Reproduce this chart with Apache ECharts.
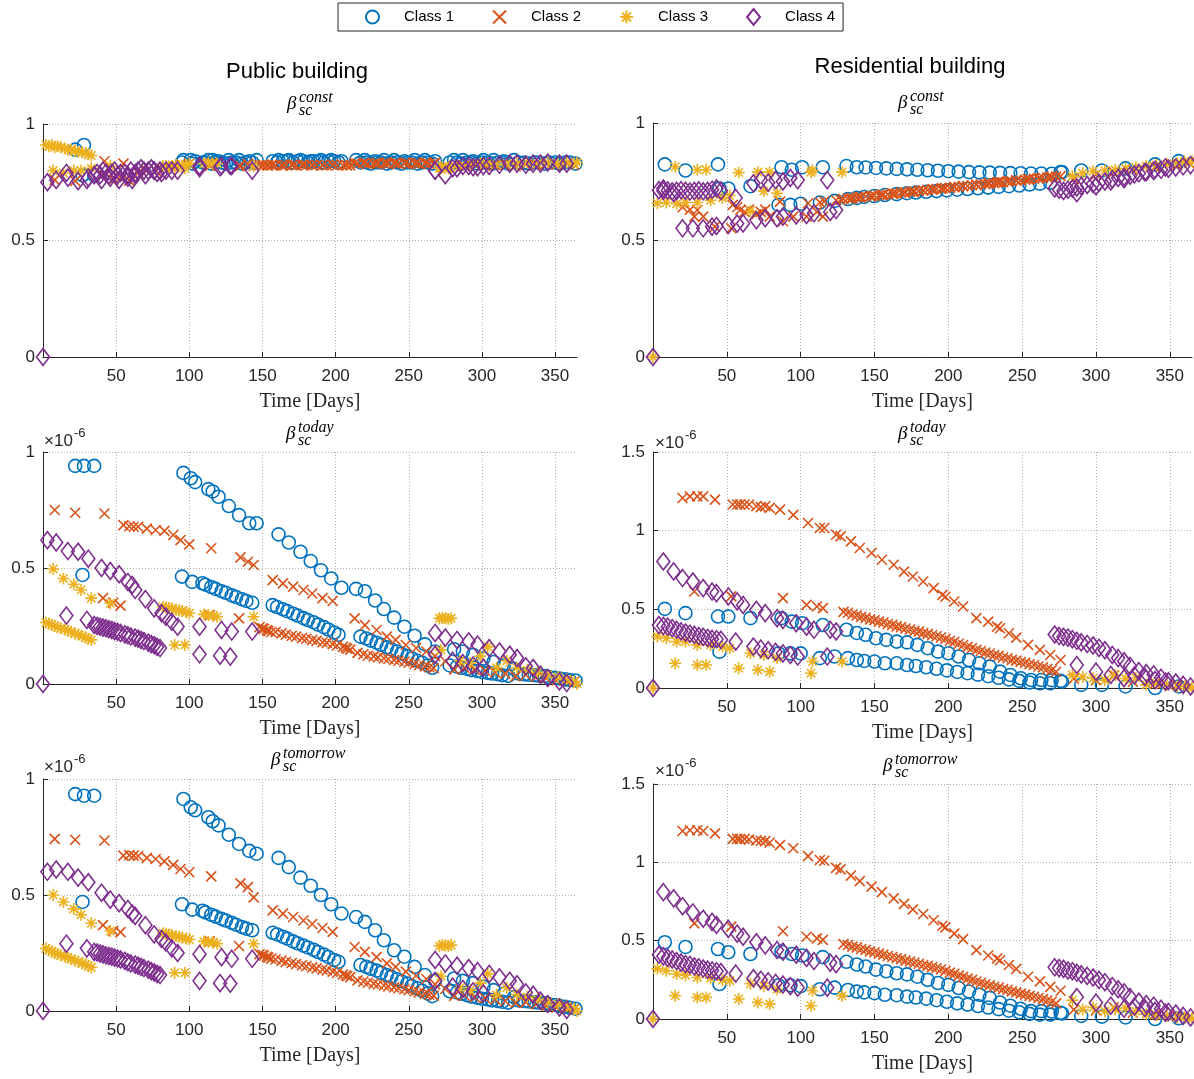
<!DOCTYPE html>
<html><head><meta charset="utf-8">
<script src="https://cdn.jsdelivr.net/npm/echarts@6/dist/echarts.min.js"></script>
<style>html,body{margin:0;padding:0;background:#fff}#c{width:1194px;height:1079px}</style>
</head><body><div id="c"></div>
<script>
// ===== DATA (days of the year; beta_today / beta_tomorrow in units of 1e-6) =====
const classNames = ['Class 1', 'Class 2', 'Class 3', 'Class 4'];
const xTickLabels = [50, 100, 150, 200, 250, 300, 350];
const yTickLabelsSmall = [0, 0.5, 1];
const yTickLabelsLarge = [0, 0.5, 1, 1.5];

// ---------- Public building ----------
const pubDays1 = [22,27,28,35, 96,101,104,113,116,120,127,134,141,146, 95,102,109,111,115,118,122,125,129,132,136,139,143,
  161,168,176,183,190,197,204, 157,160,164,167,171,174,178,181,185,188,192,195,199,202,
  214,220,227,233,240,247,254,261,268, 217,221,224,228,231,235,238,242,245,249,252,256,259,263,266,
  281,287,294,301,308,315,322, 278,283,286,290,293,297,300,304,307,311,314,318,
  325,329,332,336,339,343,346,350,353,357,360,364];
const pubConst1 = [0.89,0.78,0.91,0.78, 0.845,0.845,0.84,0.845,0.845,0.84,0.845,0.845,0.84,0.845,
  0.835,0.83,0.835,0.835,0.83,0.835,0.835,0.83,0.835,0.835,0.83,0.835,0.835,
  0.845,0.845,0.845,0.84,0.845,0.845,0.84, 0.84,0.835,0.84,0.84,0.835,0.84,0.84,0.835,0.84,0.84,0.835,0.84,0.84,0.835,
  0.845,0.845,0.84,0.845,0.845,0.84,0.845,0.845,0.84, 0.835,0.835,0.83,0.835,0.835,0.83,0.835,0.835,0.83,0.835,0.835,0.83,0.835,0.835,0.83,
  0.845,0.845,0.84,0.845,0.845,0.84,0.845, 0.835,0.835,0.83,0.835,0.835,0.83,0.835,0.835,0.83,0.835,0.835,0.83,
  0.835,0.835,0.83,0.835,0.835,0.83,0.835,0.835,0.83,0.835,0.835,0.83];
const pubToday1 = [0.94,0.47,0.94,0.94, 0.91,0.887,0.87,0.84,0.83,0.807,0.767,0.728,0.693,0.693,
  0.463,0.44,0.434,0.428,0.418,0.41,0.4,0.393,0.382,0.375,0.365,0.358,0.35,
  0.645,0.61,0.57,0.53,0.49,0.455,0.415, 0.34,0.332,0.322,0.314,0.303,0.295,0.284,0.276,0.266,0.256,0.245,0.235,0.222,0.212,
  0.41,0.4,0.36,0.323,0.286,0.247,0.208,0.171,0.14, 0.204,0.196,0.187,0.178,0.169,0.158,0.15,0.14,0.131,0.12,0.111,0.1,0.092,0.08,0.07,
  0.15,0.14,0.125,0.11,0.095,0.08,0.065, 0.08,0.075,0.07,0.065,0.06,0.056,0.052,0.048,0.045,0.042,0.038,0.035,
  0.045,0.042,0.04,0.038,0.036,0.034,0.03,0.027,0.024,0.02,0.017,0.015];
const pubTomorrow1 = [0.935,0.47,0.928,0.928, 0.914,0.878,0.865,0.835,0.818,0.8,0.76,0.72,0.69,0.678,
  0.46,0.437,0.432,0.425,0.415,0.407,0.397,0.39,0.38,0.372,0.362,0.355,0.348,
  0.66,0.62,0.575,0.54,0.5,0.46,0.42, 0.337,0.33,0.32,0.312,0.3,0.292,0.282,0.274,0.264,0.254,0.243,0.233,0.22,0.212,
  0.405,0.384,0.348,0.305,0.262,0.234,0.19,0.155,0.13, 0.198,0.19,0.182,0.174,0.165,0.155,0.147,0.137,0.128,0.118,0.108,0.098,0.088,0.076,0.064,
  0.14,0.13,0.12,0.105,0.09,0.075,0.06, 0.085,0.08,0.075,0.068,0.062,0.057,0.053,0.05,0.046,0.043,0.04,0.036,
  0.046,0.043,0.041,0.038,0.036,0.033,0.03,0.026,0.022,0.018,0.014,0.01];

const pubDays2 = [8,22,42,55,59,62,65,71,77,83,89,94,100,115,135,140,144, 157,164,171,178,184,191,198,
  213,220,228,235,241,248,255,262,268, 41,48,53, 114,134, 148,150,151,153,154,156,
  159,163,166,170,173,177,180,184,187,191,194,198,201, 205,207,208,210,
  215,219,222,226,229,233,236,240,243,247,250,254,257,261,264,267,
  275,281,288,295,302,309,316,323,330,337,344,351,358,363];
const pubConst2 = [0.76,0.756,0.84,0.83,0.757,0.78,0.79,0.8,0.8,0.81,0.82,0.825,0.83,0.83,0.82,0.83,0.82,
  0.825,0.822,0.826,0.824,0.825,0.823,0.826, 0.833,0.835,0.832,0.834,0.833,0.835,0.832,0.834,0.833,
  0.78,0.76,0.77, 0.82,0.82, 0.823,0.822,0.824,0.823,0.822,0.824,
  0.823,0.822,0.824,0.823,0.822,0.824,0.823,0.822,0.824,0.823,0.822,0.824,0.823, 0.823,0.824,0.822,0.823,
  0.83,0.832,0.829,0.831,0.83,0.832,0.829,0.831,0.83,0.832,0.829,0.831,0.83,0.832,0.829,0.831,
  0.815,0.82,0.82,0.825,0.82,0.825,0.825,0.82,0.825,0.825,0.83,0.825,0.83,0.825];
const pubToday2 = [0.75,0.738,0.735,0.685,0.68,0.678,0.678,0.67,0.664,0.66,0.642,0.62,0.602,0.585,0.546,0.527,0.513,
  0.448,0.434,0.42,0.405,0.39,0.37,0.358, 0.283,0.254,0.233,0.204,0.19,0.168,0.155,0.14,0.12,
  0.37,0.35,0.338, 0.297,0.283, 0.245,0.24,0.237,0.232,0.228,0.224,
  0.224,0.218,0.213,0.208,0.204,0.198,0.195,0.19,0.186,0.18,0.177,0.172,0.166, 0.16,0.156,0.152,0.148,
  0.134,0.128,0.122,0.119,0.115,0.111,0.108,0.104,0.1,0.096,0.092,0.086,0.081,0.076,0.072,0.068,
  0.098,0.062,0.07,0.062,0.058,0.05,0.045,0.033,0.04,0.03,0.025,0.015,0.012,0.01];
const pubTomorrow2 = [0.742,0.738,0.735,0.67,0.672,0.67,0.668,0.66,0.655,0.645,0.63,0.612,0.598,0.58,0.55,0.534,0.49,
  0.434,0.42,0.405,0.39,0.375,0.358,0.341, 0.276,0.255,0.232,0.205,0.19,0.17,0.152,0.138,0.115,
  0.37,0.345,0.34, 0.3,0.28, 0.245,0.242,0.238,0.234,0.23,0.226,
  0.222,0.217,0.212,0.207,0.202,0.197,0.193,0.188,0.184,0.179,0.175,0.17,0.164, 0.158,0.154,0.15,0.146,
  0.132,0.127,0.122,0.118,0.114,0.11,0.106,0.102,0.098,0.094,0.09,0.085,0.08,0.075,0.07,0.066,
  0.095,0.065,0.068,0.06,0.056,0.05,0.043,0.035,0.038,0.028,0.022,0.015,0.01,0.008];

const pubDays3 = [7,14,21,26,33,46, 2,4,6,8,10,12,15,17,19,22,24,27,29,31,33,
  82,84,86,88,91,93,95,98,100,110,113,116,119, 90,97, 144, 271,273,275,277,279, 272,
  285,292,299,304,310,317,324,331,338,345,352,358,363,365];
const pubConst3 = [0.8,0.79,0.8,0.8,0.81,0.82, 0.91,0.905,0.91,0.9,0.905,0.9,0.895,0.89,0.89,0.885,0.88,0.88,0.875,0.87,0.865,
  0.82,0.82,0.815,0.82,0.825,0.82,0.82,0.825,0.83,0.83,0.835,0.83,0.83, 0.81,0.81, 0.82, 0.81,0.815,0.81,0.81,0.815, 0.81,
  0.82,0.825,0.83,0.83,0.825,0.83,0.83,0.835,0.83,0.835,0.83,0.835,0.83,0.835];
const pubToday3 = [0.496,0.455,0.43,0.405,0.37,0.348, 0.265,0.26,0.255,0.25,0.245,0.24,0.235,0.23,0.225,0.218,0.213,0.207,0.2,0.195,0.19,
  0.333,0.33,0.328,0.325,0.32,0.318,0.315,0.31,0.305,0.3,0.297,0.293,0.29, 0.168,0.168, 0.29, 0.283,0.285,0.283,0.28,0.283, 0.147,
  0.1,0.09,0.12,0.16,0.07,0.1,0.07,0.06,0.05,0.04,0.03,0.02,0.01,0.0];
const pubTomorrow3 = [0.5,0.47,0.44,0.415,0.378,0.345, 0.27,0.262,0.257,0.25,0.246,0.24,0.234,0.23,0.224,0.218,0.212,0.206,0.2,0.194,0.188,
  0.335,0.333,0.33,0.328,0.322,0.32,0.316,0.312,0.308,0.3,0.298,0.295,0.29, 0.165,0.165, 0.29, 0.28,0.285,0.282,0.28,0.284, 0.15,
  0.1,0.09,0.12,0.16,0.07,0.1,0.07,0.06,0.05,0.04,0.03,0.02,0.01,0.0];

const pubDays4 = [0, 3,9,17,24,31,40,46,52,58,61,63,70,76,81,84,88,92, 16,30,
  35,37,39,41,43,45,47,49,51,53,56,58,60,63,65,67,69,72,74,76,78,80,
  107,122,129,143, 107,121,128,
  268,275,283,291,297,305,312,319,324,330,335,340,345,353,358, 268,280,287,294,301];
const pubConst4 = [0, 0.75,0.76,0.77,0.755,0.77,0.76,0.77,0.76,0.77,0.76,0.78,0.78,0.8,0.79,0.8,0.8,0.8, 0.79,0.76,
  0.78,0.79,0.78,0.8,0.79,0.78,0.79,0.8,0.78,0.79,0.79,0.78,0.8,0.79,0.8,0.81,0.8,0.8,0.81,0.8,0.79,0.8,
  0.82,0.82,0.82,0.8, 0.81,0.815,0.82,
  0.8,0.78,0.81,0.82,0.815,0.82,0.825,0.83,0.83,0.825,0.83,0.83,0.835,0.83,0.83, 0.8,0.81,0.82,0.815,0.82];
const pubToday4 = [0, 0.62,0.61,0.573,0.57,0.54,0.5,0.487,0.473,0.44,0.427,0.405,0.366,0.326,0.305,0.29,0.268,0.247, 0.295,0.276,
  0.254,0.25,0.247,0.243,0.24,0.236,0.233,0.228,0.225,0.22,0.214,0.21,0.205,0.2,0.195,0.19,0.185,0.178,0.172,0.167,0.16,0.155,
  0.247,0.233,0.226,0.226, 0.128,0.122,0.118,
  0.22,0.2,0.19,0.184,0.17,0.155,0.14,0.126,0.112,0.076,0.069,0.04,0.026,0.011,0.004, 0.126,0.1,0.09,0.08,0.07];
const pubTomorrow4 = [0, 0.6,0.61,0.6,0.575,0.555,0.51,0.48,0.465,0.44,0.42,0.41,0.37,0.33,0.31,0.295,0.27,0.25, 0.29,0.27,
  0.255,0.252,0.248,0.244,0.24,0.237,0.234,0.23,0.226,0.222,0.216,0.21,0.205,0.2,0.195,0.19,0.185,0.178,0.172,0.166,0.16,0.155,
  0.245,0.232,0.225,0.225, 0.13,0.12,0.118,
  0.22,0.205,0.195,0.185,0.172,0.16,0.145,0.13,0.115,0.08,0.07,0.045,0.03,0.015,0.005, 0.13,0.105,0.095,0.085,0.075];

// ---------- Residential building ----------
const resDays1 = [8,22,44,51,66,45, 87,94,101,115, 85,93,100,113,123,
  131,138,144,151,158,165,172,179,186,193,200,207,214,221,228,235,242,249,256,263,270,276,
  132,138,143,150,157,165,172,178,185,192,199,206,213,220,227,234,241,248,255,262,269,
  277,290,304,320,340,356];
const resConst1 = [0.823,0.797,0.823,0.72,0.73,0.72, 0.811,0.8,0.811,0.811, 0.65,0.65,0.655,0.66,0.667,
  0.816,0.811,0.81,0.808,0.806,0.804,0.802,0.8,0.798,0.796,0.794,0.792,0.79,0.789,0.788,0.787,0.786,0.785,0.784,0.784,0.783,0.79,
  0.675,0.68,0.684,0.688,0.692,0.696,0.7,0.703,0.706,0.709,0.712,0.715,0.718,0.721,0.724,0.727,0.73,0.733,0.737,0.741,0.745,
  0.79,0.797,0.797,0.806,0.823,0.837];
const resToday1 = [0.503,0.476,0.454,0.454,0.444,0.231, 0.444,0.422,0.412,0.4, 0.22,0.22,0.22,0.19,0.2,
  0.37,0.35,0.338,0.316,0.306,0.295,0.29,0.274,0.253,0.231,0.221,0.2,0.178,0.157,0.136,0.104,0.083,0.062,0.051,0.051,0.05,0.045,
  0.19,0.178,0.172,0.168,0.157,0.157,0.146,0.14,0.132,0.122,0.112,0.102,0.094,0.085,0.075,0.065,0.055,0.045,0.035,0.03,0.03,
  0.04,0.02,0.02,0.01,0.0,0.01];
const resTomorrow1 = [0.49,0.46,0.447,0.426,0.415,0.223, 0.43,0.415,0.405,0.395, 0.215,0.215,0.21,0.19,0.2,
  0.365,0.348,0.335,0.315,0.305,0.292,0.285,0.27,0.25,0.23,0.218,0.198,0.176,0.155,0.135,0.105,0.085,0.065,0.05,0.05,0.048,0.04,
  0.185,0.175,0.17,0.165,0.155,0.152,0.143,0.137,0.13,0.12,0.11,0.1,0.092,0.083,0.073,0.063,0.053,0.043,0.033,0.028,0.028,
  0.035,0.02,0.015,0.01,0.0,0.005];

const resDays2 = [20,25,30,34,42,54,57,59,62,65,70,73,76,79,86,95,105,113,116,124,127,134,140,148,155,163,170,176,183,190,196,198,204,210,219,227,233,235,241,246,254,262,269,276,
  28,53,88,104,111,115,
  129,132,135,138,141,144,147,150,153,156,159,162,165,168,171,174,177,180,183,186,189,192,195,198,201,204,207,210,213,216,219,222,225,228,231,234,237,240,243,246,249,252,255,258,261,264,267,270,273,
  285,300,312,325,340,355,363];
const resConst2 = [0.64,0.63,0.628,0.6,0.557,0.65,0.64,0.628,0.62,0.63,0.61,0.62,0.63,0.6,0.664,0.6,0.657,0.661,0.665,0.67,0.672,0.677,0.682,0.688,0.692,0.698,0.703,0.707,0.712,0.717,0.721,0.722,0.727,0.731,0.737,0.742,0.746,0.748,0.752,0.755,0.76,0.765,0.769,0.773,
  0.6,0.55,0.58,0.6,0.62,0.6,
  0.675,0.678,0.679,0.682,0.683,0.686,0.687,0.69,0.691,0.694,0.695,0.698,0.699,0.702,0.703,0.706,0.707,0.71,0.711,0.714,0.715,0.718,0.719,0.722,0.723,0.726,0.727,0.73,0.731,0.734,0.735,0.738,0.739,0.742,0.743,0.746,0.747,0.75,0.751,0.754,0.755,0.758,0.759,0.762,0.763,0.766,0.767,0.77,0.771,
  0.76,0.78,0.79,0.8,0.81,0.82,0.83];
const resToday2 = [1.208,1.218,1.218,1.218,1.197,1.166,1.166,1.166,1.166,1.166,1.155,1.15,1.155,1.145,1.134,1.1,1.049,1.017,1.017,0.974,0.964,0.932,0.89,0.858,0.815,0.783,0.74,0.709,0.677,0.635,0.592,0.58,0.55,0.518,0.444,0.422,0.39,0.38,0.348,0.32,0.274,0.242,0.21,0.178,
  0.613,0.582,0.571,0.528,0.518,0.508,
  0.484,0.478,0.467,0.462,0.452,0.446,0.436,0.431,0.422,0.416,0.407,0.401,0.392,0.387,0.378,0.372,0.363,0.358,0.349,0.344,0.335,0.329,0.321,0.312,0.3,0.293,0.281,0.273,0.261,0.254,0.242,0.235,0.225,0.219,0.209,0.204,0.194,0.189,0.179,0.174,0.165,0.16,0.151,0.146,0.137,0.131,0.121,0.114,0.103,
  0.06,0.05,0.08,0.04,0.03,0.02,0.01];
const resTomorrow2 = [1.2,1.205,1.205,1.2,1.185,1.15,1.15,1.148,1.15,1.145,1.14,1.138,1.135,1.125,1.11,1.09,1.04,1.015,1.01,0.965,0.955,0.915,0.88,0.845,0.81,0.77,0.735,0.7,0.67,0.63,0.595,0.585,0.545,0.51,0.44,0.405,0.385,0.375,0.345,0.32,0.27,0.24,0.205,0.18,
  0.61,0.59,0.56,0.525,0.515,0.505,
  0.478,0.472,0.462,0.457,0.447,0.441,0.432,0.426,0.417,0.411,0.402,0.396,0.388,0.382,0.373,0.367,0.359,0.353,0.345,0.339,0.331,0.324,0.316,0.307,0.296,0.288,0.277,0.269,0.258,0.25,0.239,0.231,0.222,0.215,0.206,0.2,0.191,0.185,0.176,0.17,0.162,0.156,0.148,0.142,0.134,0.127,0.118,0.11,0.1,
  0.06,0.055,0.075,0.04,0.03,0.02,0.01];

const resDays3 = [0, 3,9,16,22,30,39,47,52, 66,75,84, 15,30,36,58,71,79,107,108,128,
  284,291,298,306,313,320,327,334,341,348,355,360,365];
const resConst3 = [0, 0.657,0.66,0.655,0.66,0.66,0.67,0.68,0.69, 0.624,0.709,0.7, 0.813,0.8,0.8,0.788,0.79,0.79,0.79,0.797,0.79,
  0.773,0.785,0.794,0.797,0.8,0.805,0.81,0.816,0.82,0.825,0.83,0.835,0.837];
const resToday3 = [0, 0.327,0.316,0.295,0.295,0.274,0.274,0.263,0.253, 0.221,0.21,0.19, 0.157,0.146,0.146,0.125,0.115,0.104,0.094,0.168,0.168,
  0.083,0.07,0.062,0.05,0.083,0.06,0.064,0.02,0.03,0.02,0.01,0.01,0.0];
const resTomorrow3 = [0, 0.32,0.308,0.287,0.28,0.265,0.26,0.248,0.245, 0.225,0.21,0.19, 0.149,0.138,0.138,0.128,0.106,0.095,0.085,0.18,0.149,
  0.12,0.06,0.075,0.05,0.06,0.07,0.05,0.03,0.025,0.02,0.01,0.01,0.0];

const resDays4 = [0, 7,14,20,27,34,40,43,51,57,61,70,76,84,88,97,104,109,120,124,
  4,7,10,13,16,19,22,25,28,31,34,37,40,43,46, 56,68,73,78,83,88,93,98,118,
  272,275,278,281,284,287,290,294,298,302,306,311,315,319,323,329,334,339,344,349,354,359,364,
  287,300,310,319,326,333,340,347];
const resConst4 = [0, 0.72,0.7,0.55,0.55,0.55,0.557,0.56,0.564,0.57,0.571,0.585,0.593,0.593,0.6,0.605,0.607,0.614,0.62,0.628,
  0.713,0.71,0.712,0.708,0.71,0.713,0.71,0.707,0.71,0.712,0.708,0.71,0.715,0.72,0.71, 0.68,0.742,0.756,0.745,0.756,0.75,0.765,0.756,0.756,
  0.72,0.715,0.71,0.715,0.72,0.725,0.73,0.735,0.74,0.745,0.75,0.76,0.765,0.77,0.775,0.785,0.79,0.795,0.8,0.805,0.81,0.815,0.82,
  0.7,0.73,0.75,0.76,0.78,0.79,0.8,0.81];
const resToday4 = [0, 0.804,0.741,0.699,0.677,0.635,0.613,0.603,0.582,0.55,0.528,0.497,0.476,0.444,0.433,0.412,0.39,0.37,0.37,0.359,
  0.4,0.395,0.39,0.38,0.37,0.36,0.352,0.345,0.338,0.33,0.325,0.318,0.312,0.31,0.306, 0.295,0.263,0.25,0.24,0.23,0.22,0.21,0.2,0.2,
  0.34,0.33,0.325,0.32,0.31,0.3,0.29,0.28,0.27,0.255,0.24,0.21,0.19,0.17,0.14,0.107,0.095,0.086,0.065,0.043,0.035,0.02,0.01,
  0.146,0.104,0.083,0.062,0.08,0.07,0.05,0.04];
const resTomorrow4 = [0, 0.81,0.77,0.72,0.68,0.64,0.62,0.6,0.575,0.545,0.525,0.49,0.47,0.44,0.43,0.41,0.39,0.37,0.36,0.35,
  0.41,0.4,0.39,0.38,0.37,0.36,0.35,0.345,0.335,0.33,0.322,0.315,0.31,0.305,0.3, 0.29,0.26,0.25,0.24,0.23,0.22,0.21,0.2,0.2,
  0.33,0.325,0.32,0.31,0.305,0.295,0.285,0.275,0.265,0.25,0.235,0.21,0.19,0.17,0.14,0.11,0.095,0.085,0.065,0.045,0.035,0.02,0.01,
  0.14,0.105,0.085,0.065,0.08,0.07,0.05,0.04];

// ===== CHART =====
const AX = '#262626';
const GRIDC = '#b0b0b0';
const COLORS = ['#0072BD', '#D95319', '#EDB120', '#7E2F8E'];
const SYMBOLS = ['circle', 'path://M0,0L10,10M10,0L0,10',
  'path://M5,0L5,10M0,5L10,5M1.5,1.5L8.5,8.5M8.5,1.5L1.5,8.5', 'diamond'];
const SIZES = [13, 10, 12, [13, 17]];

const pubDays = [pubDays1, pubDays2, pubDays3, pubDays4];
const resDays = [resDays1, resDays2, resDays3, resDays4];
const panels = [
  {box: {left: 43, top: 124, width: 534, height: 233}, ymax: 1, days: pubDays, vals: [pubConst1, pubConst2, pubConst3, pubConst4]},
  {box: {left: 653, top: 123, width: 539, height: 234}, ymax: 1, days: resDays, vals: [resConst1, resConst2, resConst3, resConst4]},
  {box: {left: 43, top: 452, width: 534, height: 232}, ymax: 1, days: pubDays, vals: [pubToday1, pubToday2, pubToday3, pubToday4]},
  {box: {left: 653, top: 452, width: 539, height: 236}, ymax: 1.5, days: resDays, vals: [resToday1, resToday2, resToday3, resToday4]},
  {box: {left: 43, top: 779, width: 534, height: 232}, ymax: 1, days: pubDays, vals: [pubTomorrow1, pubTomorrow2, pubTomorrow3, pubTomorrow4]},
  {box: {left: 653, top: 784, width: 539, height: 235}, ymax: 1.5, days: resDays, vals: [resTomorrow1, resTomorrow2, resTomorrow3, resTomorrow4]}
];

function pairs(d, v) {
  const n = Math.min(d.length, v.length), out = [];
  for (let i = 0; i < n; i++) out.push([d[i], v[i]]);
  return out;
}

const grids = [], xAxes = [], yAxes = [], series = [];
panels.forEach((p, i) => {
  grids.push(Object.assign({containLabel: false}, p.box));
  xAxes.push({
    gridIndex: i, type: 'value', min: 0, max: 365, interval: 10,
    axisLine: {show: true, onZero: false, lineStyle: {color: AX, width: 1}},
    axisTick: {show: true, inside: true, length: 5, customValues: xTickLabels, lineStyle: {color: AX}},
    axisLabel: {customValues: xTickLabels, margin: 11, fontSize: 17, color: AX, fontFamily: 'Liberation Sans'},
    splitLine: {show: true, lineStyle: {color: GRIDC, type: [1, 2], width: 1}},
    name: 'Time [Days]', nameLocation: 'middle', nameGap: 35,
    nameTextStyle: {fontFamily: 'Liberation Serif', fontSize: 20, color: AX}
  });
  const yl = p.ymax > 1 ? yTickLabelsLarge : yTickLabelsSmall;
  yAxes.push({
    gridIndex: i, type: 'value', min: 0, max: p.ymax, interval: 0.1,
    axisLine: {show: true, onZero: false, lineStyle: {color: AX, width: 1}},
    axisTick: {show: true, inside: true, length: 5, customValues: yl, lineStyle: {color: AX}},
    axisLabel: {customValues: yl, margin: 8, fontSize: 17, color: AX, fontFamily: 'Liberation Sans'},
    splitLine: {show: true, lineStyle: {color: GRIDC, type: [1, 2], width: 1}}
  });
  for (let c = 0; c < 4; c++) {
    series.push({
      type: 'scatter', name: classNames[c], xAxisIndex: i, yAxisIndex: i,
      symbol: SYMBOLS[c], symbolSize: SIZES[c],
      itemStyle: {color: 'rgba(0,0,0,0)', borderColor: COLORS[c], borderWidth: 1.6, opacity: 1},
      emphasis: {disabled: true},
      data: pairs(p.days[c], p.vals[c])
    });
  }
});

function txt(x, y, text, font, align) {
  return {type: 'text', x: x, y: y, silent: true,
    style: {text: text, font: font, fill: '#000', textAlign: align || 'left', textVerticalAlign: 'middle'}};
}
const BETA = 'italic 19px "Liberation Serif"';
const SCR = 'italic 16px "Liberation Serif"';
function betaTitle(x, y, sup) {
  return [txt(x, y, 'β', BETA), txt(x + 12, y - 6, sup, SCR), txt(x + 12, y + 7, 'sc', SCR)];
}
function expo(x, y) {
  return [
    {type: 'text', x: x, y: y, silent: true, style: {text: '×10', font: '17px "Liberation Sans"', fill: AX, textVerticalAlign: 'middle'}},
    {type: 'text', x: x + 30, y: y - 8, silent: true, style: {text: '-6', font: '13px "Liberation Sans"', fill: AX, textVerticalAlign: 'middle'}}
  ];
}
const graphics = [
  txt(297, 72, 'Public building', '22px "Liberation Sans"', 'center'),
  txt(910, 67, 'Residential building', '22px "Liberation Sans"', 'center'),
  ...betaTitle(287, 104, 'const'),
  ...betaTitle(898, 103, 'const'),
  ...betaTitle(286, 434, 'today'),
  ...betaTitle(898, 434, 'today'),
  ...betaTitle(271, 760, 'tomorrow'),
  ...betaTitle(883, 766, 'tomorrow'),
  ...expo(44, 441), ...expo(655, 443), ...expo(44, 767), ...expo(655, 771)
];

const chart = echarts.init(document.getElementById('c'), null, {renderer: 'canvas'});
chart.setOption({
  animation: false,
  backgroundColor: '#fff',
  grid: grids, xAxis: xAxes, yAxis: yAxes, series: series,
  legend: {
    left: 338, top: 3, orient: 'horizontal',
    data: classNames.map((n, k) => ({name: n, icon: SYMBOLS[k]})),
    itemWidth: 13, itemHeight: 16, itemGap: 38,
    padding: [5, 8, 5, 27],
    borderColor: AX, borderWidth: 1,
    textStyle: {fontSize: 15, color: '#000', fontFamily: 'Liberation Sans', padding: [0, 0, 0, 20]},
    selectedMode: false
  },
  graphic: graphics
});
</script></body></html>
